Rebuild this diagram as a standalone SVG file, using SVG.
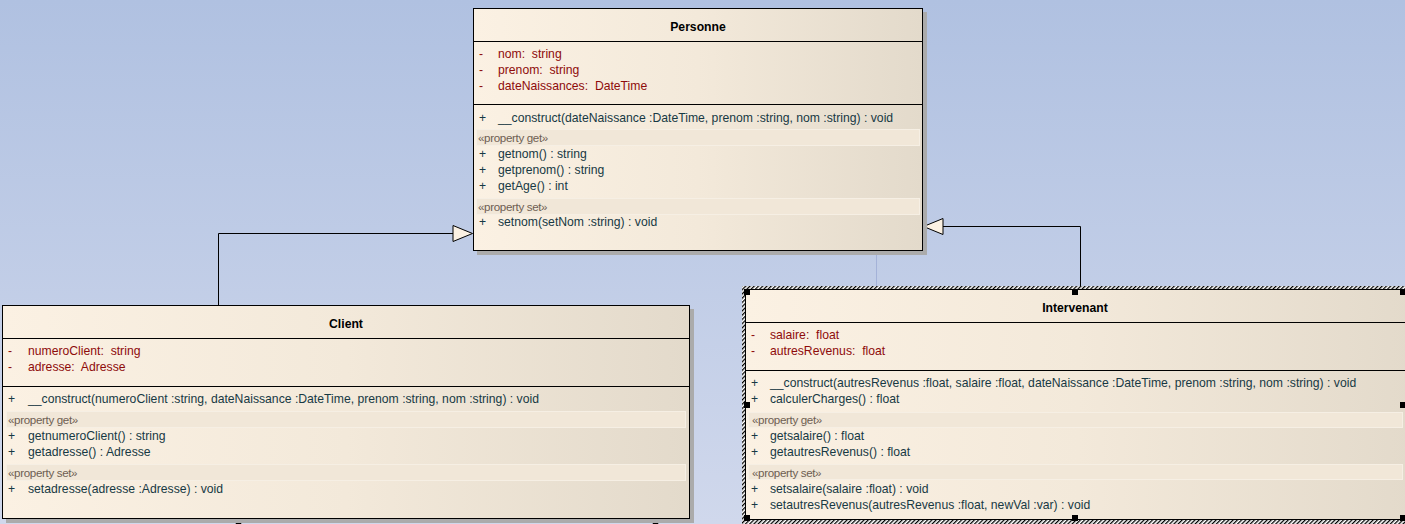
<svg xmlns="http://www.w3.org/2000/svg" width="1405" height="524" viewBox="0 0 1405 524" xml:space="preserve">
<defs>
<linearGradient id="bg" x1="0" y1="0" x2="0" y2="1">
<stop offset="0" stop-color="#B0C1E1"/>
<stop offset="1" stop-color="#D0D8EC"/>
</linearGradient>
<linearGradient id="box" x1="0" y1="0" x2="1" y2="0">
<stop offset="0" stop-color="#FBF1E3"/>
<stop offset="0.5" stop-color="#F3E9DA"/>
<stop offset="1" stop-color="#E3DACB"/>
</linearGradient>
<pattern id="hatch" width="3" height="3" patternUnits="userSpaceOnUse" patternTransform="rotate(45)">
<rect width="3" height="3" fill="#FFFFFF"/>
<rect width="1.3" height="3" fill="#000000"/>
</pattern>
<style>
.box{fill:url(#box);stroke:#000;stroke-width:1}
.shadow{fill:#ABABAB}
.div{stroke:#000;stroke-width:1}
.band{fill:#F1E7D8;stroke:#F6EFE4;stroke-width:1}
.t{font-family:"Liberation Sans",Arial,sans-serif;font-size:12.2px;white-space:pre}
.title{font-weight:bold;fill:#000;text-anchor:middle}
.attr{fill:#8E0B0B}
.op{fill:#173944}
.st{font-family:"Liberation Sans",Arial,sans-serif;font-size:11.6px;fill:#6E5E52;letter-spacing:-0.35px;white-space:pre}
.conn{fill:none;stroke:#000;stroke-width:1}
.tri{fill:#FBF1E3;stroke:#000;stroke-width:1}
.h{fill:#000}
</style>
</defs>
<rect x="0" y="0" width="1405" height="524" fill="url(#bg)"/>
<line x1="876.5" y1="255" x2="876.5" y2="287" stroke="#A4B2D8" stroke-width="1"/>

<g id="connectors">
<polyline class="conn" points="218.5,305 218.5,233.5 453,233.5"/>
<polygon class="tri" points="453,225.5 472.5,233.5 453,241.5"/>
<polyline class="conn" points="1080.5,290 1080.5,226.5 943,226.5"/>
<polygon class="tri" points="943,218.5 923.5,226.5 943,234.5"/>
<polygon class="h" points="238.5,518 235.5,524 241.5,524"/>
<polygon class="h" points="655.5,518 652.5,524 658.5,524"/>
</g>

<g id="Personne">
<rect class="shadow" x="477" y="12" width="450" height="243"/>
<rect class="box" x="473.5" y="8.5" width="449" height="242"/>
<text class="t title" x="698" y="31">Personne</text>
<line class="div" x1="473.5" y1="41.5" x2="922.5" y2="41.5"/>
<text class="t attr" x="479" y="58">-</text><text class="t attr" x="498" y="58">nom:  string</text>
<text class="t attr" x="479" y="74">-</text><text class="t attr" x="498" y="74">prenom:  string</text>
<text class="t attr" x="479" y="90">-</text><text class="t attr" x="498" y="90">dateNaissances:  DateTime</text>
<line class="div" x1="473.5" y1="104.5" x2="922.5" y2="104.5"/>
<text class="t op" x="479" y="122">+</text><text class="t op" x="498" y="122">__construct(dateNaissance :DateTime, prenom :string, nom :string) : void</text>
<rect class="band" x="476.5" y="129.5" width="443" height="16"/>
<text class="st" x="478" y="142">«property get»</text>
<text class="t op" x="479" y="158">+</text><text class="t op" x="498" y="158">getnom() : string</text>
<text class="t op" x="479" y="174">+</text><text class="t op" x="498" y="174">getprenom() : string</text>
<text class="t op" x="479" y="190">+</text><text class="t op" x="498" y="190">getAge() : int</text>
<rect class="band" x="476.5" y="198.5" width="443" height="16"/>
<text class="st" x="478" y="211">«property set»</text>
<text class="t op" x="479" y="226">+</text><text class="t op" x="498" y="226">setnom(setNom :string) : void</text>
</g>

<g id="Client">
<rect class="shadow" x="6" y="309" width="688" height="214"/>
<rect class="box" x="2.5" y="305.5" width="687" height="213"/>
<text class="t title" x="346" y="328">Client</text>
<line class="div" x1="2.5" y1="338.5" x2="689.5" y2="338.5"/>
<text class="t attr" x="8" y="355">-</text><text class="t attr" x="28" y="355">numeroClient:  string</text>
<text class="t attr" x="8" y="371">-</text><text class="t attr" x="28" y="371">adresse:  Adresse</text>
<line class="div" x1="2.5" y1="386.5" x2="689.5" y2="386.5"/>
<text class="t op" x="8" y="403">+</text><text class="t op" x="28" y="403">__construct(numeroClient :string, dateNaissance :DateTime, prenom :string, nom :string) : void</text>
<rect class="band" x="6.5" y="411.5" width="679" height="16"/>
<text class="st" x="8" y="424">«property get»</text>
<text class="t op" x="8" y="440">+</text><text class="t op" x="28" y="440">getnumeroClient() : string</text>
<text class="t op" x="8" y="456">+</text><text class="t op" x="28" y="456">getadresse() : Adresse</text>
<rect class="band" x="6.5" y="464.5" width="679" height="16"/>
<text class="st" x="8" y="477">«property set»</text>
<text class="t op" x="8" y="493">+</text><text class="t op" x="28" y="493">setadresse(adresse :Adresse) : void</text>
</g>

<g id="Intervenant">
<rect x="742" y="286" width="670" height="240" fill="url(#hatch)"/>
<rect class="box" x="745.5" y="289.5" width="665" height="230"/>
<text class="t title" x="1075" y="312">Intervenant</text>
<line class="div" x1="745.5" y1="322.5" x2="1405" y2="322.5"/>
<text class="t attr" x="751" y="339">-</text><text class="t attr" x="770" y="339">salaire:  float</text>
<text class="t attr" x="751" y="355">-</text><text class="t attr" x="770" y="355">autresRevenus:  float</text>
<line class="div" x1="745.5" y1="370.5" x2="1405" y2="370.5"/>
<text class="t op" x="751" y="387">+</text><text class="t op" x="770" y="387">__construct(autresRevenus :float, salaire :float, dateNaissance :DateTime, prenom :string, nom :string) : void</text>
<text class="t op" x="751" y="403">+</text><text class="t op" x="770" y="403">calculerCharges() : float</text>
<rect class="band" x="748.5" y="412.5" width="654" height="15"/>
<text class="st" x="752" y="424">«property get»</text>
<text class="t op" x="751" y="440">+</text><text class="t op" x="770" y="440">getsalaire() : float</text>
<text class="t op" x="751" y="456">+</text><text class="t op" x="770" y="456">getautresRevenus() : float</text>
<rect class="band" x="748.5" y="464.5" width="654" height="15"/>
<text class="st" x="752" y="477">«property set»</text>
<text class="t op" x="751" y="493">+</text><text class="t op" x="770" y="493">setsalaire(salaire :float) : void</text>
<text class="t op" x="751" y="509">+</text><text class="t op" x="770" y="509">setautresRevenus(autresRevenus :float, newVal :var) : void</text>
<rect class="h" x="744" y="289" width="6" height="6"/>
<rect class="h" x="1072" y="289" width="6" height="6"/>
<rect class="h" x="1400" y="289" width="6" height="6"/>
<rect class="h" x="744" y="402" width="6" height="6"/>
<rect class="h" x="1400" y="402" width="6" height="6"/>
<rect class="h" x="744" y="515" width="6" height="6"/>
<rect class="h" x="1072" y="515" width="6" height="6"/>
<rect class="h" x="1400" y="515" width="6" height="6"/>
</g>
</svg>
